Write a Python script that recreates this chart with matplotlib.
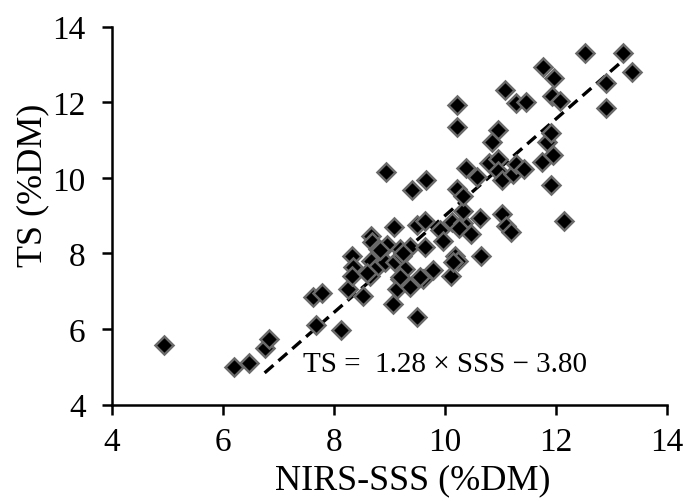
import matplotlib
matplotlib.use('Agg')
from matplotlib import pyplot as plt
import numpy as np

plt.rcParams['font.family'] = ['Liberation Serif', 'DejaVu Serif']

# NIRS-SSS (x) and TS (y)
sss = [4.94, 6.19, 6.47, 6.75, 6.83, 7.63, 7.79, 7.68, 8.12, 8.26,
       8.52, 8.32, 8.35, 8.33, 8.66, 8.69, 8.80, 8.95, 8.67, 8.76,
       8.64, 8.92, 9.08, 9.06, 9.10, 9.18, 9.14, 9.19, 9.22, 9.28,
       8.83, 8.59, 9.37, 9.25, 9.37, 9.49, 9.61, 9.78, 9.64, 9.50,
       9.64, 9.91, 9.97, 10.12, 10.32, 10.26, 10.46, 10.33, 10.63, 10.10,
       10.18, 10.24, 10.14, 10.64, 11.02, 11.10, 11.18, 12.15, 11.91, 11.74,
       11.94, 11.83, 11.90, 12.90, 12.90, 13.36, 13.20, 12.52, 11.76, 11.97,
       11.92, 12.07, 11.08, 11.27, 11.46, 10.22, 10.22, 10.96, 10.85, 10.79,
       10.96, 10.96, 11.02, 11.23, 11.28, 11.42, 10.37, 10.57, 9.41, 9.66,
       10.22, 10.33, 8.94, 9.55, 9.19]
ts = [5.58, 5.00, 5.10, 5.50, 5.73, 6.85, 6.95, 6.11, 5.97, 7.06,
      6.87, 7.94, 7.64, 7.41, 8.47, 8.29, 8.12, 8.23, 7.81, 7.61,
      7.39, 7.76, 8.69, 6.65, 7.78, 7.32, 7.06, 8.12, 7.94, 7.59,
      8.09, 7.47, 8.16, 8.00, 7.10, 6.33, 7.32, 7.57, 8.18, 8.75,
      8.87, 8.63, 8.32, 8.82, 8.80, 8.66, 8.51, 9.13, 8.95, 7.41,
      7.94, 7.81, 7.76, 7.94, 9.04, 8.73, 8.57, 8.87, 9.82, 10.43,
      10.60, 10.96, 11.18, 11.84, 12.51, 12.81, 13.29, 13.30, 12.92, 12.63,
      12.17, 12.02, 12.33, 11.98, 12.00, 11.93, 11.34, 11.26, 10.94, 10.38,
      10.50, 10.19, 9.94, 10.10, 10.37, 10.23, 10.25, 10.01, 9.69, 9.95,
      9.70, 9.53, 10.16, 7.37, 7.37]

slope = 1.28
intercept = -3.80
line_x = [6.75, 13.25]

fig = plt.figure(figsize=(6.87, 5.02), dpi=100)
ax = fig.add_axes([0.163, 0.192, 0.808, 0.753])

ax.plot(sss, ts, 'D', ms=9.5, mfc='black', mec='#6a6a6a', mew=1.8, zorder=3)
lx = np.array(line_x)
ax.plot(lx, slope * lx + intercept, color='black', lw=2.4, ls=(0, (3.5, 2.0)), zorder=2)

ax.text(7.45, 5.07, 'TS =  1.28 \u00d7 SSS \u2212 3.80', fontsize=21, va='center', ha='left')

ax.set_xlim(4, 14)
ax.set_ylim(4, 14)
ax.set_xticks([4, 6, 8, 10, 12, 14])
ax.set_yticks([4, 6, 8, 10, 12, 14])
ax.spines['top'].set_visible(False)
ax.spines['right'].set_visible(False)
for s in ['left', 'bottom']:
    ax.spines[s].set_linewidth(1.8)
ax.tick_params(direction='out', length=7, width=1.8, labelsize=24)
ax.tick_params(axis='x', pad=9)
ax.tick_params(axis='y', pad=12)
ax.set_xlabel('NIRS-SSS (%DM)', fontsize=26, labelpad=2)
ax.set_ylabel('TS (%DM)', fontsize=26, labelpad=2)
ax.xaxis.set_label_coords(0.542, -0.155)
ax.yaxis.label.set_y(0.583)

fig.savefig('out.png', dpi=100)
